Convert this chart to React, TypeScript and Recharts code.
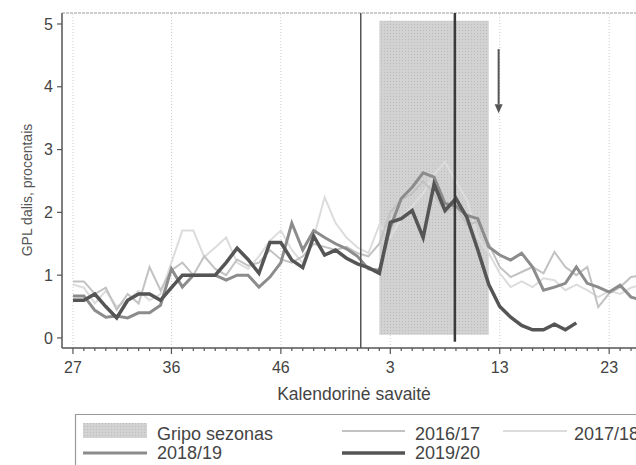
import React from 'react';
import {
  LineChart,
  Line,
  XAxis,
  YAxis,
  ReferenceArea,
  ReferenceLine,
  ReferenceDot,
} from 'recharts';

// Calendar weeks shown on the x axis (season runs from week 27 to week 26)
const weeks = [
  27, 28, 29, 30, 31, 32, 33, 34, 35, 36, 37, 38, 39, 40, 41, 42, 43, 44, 45, 46, 47, 48, 49, 50, 51, 52, 53,
  1, 2, 3, 4, 5, 6, 7, 8, 9, 10, 11, 12, 13, 14, 15, 16, 17, 18, 19, 20, 21, 22, 23, 24, 25, 26,
];
const majorTickWeeks = [27, 36, 46, 3, 13, 23];

const s1617 = [
  0.9, 0.9, 0.7, 0.8, 0.45, 0.7, 0.55, 1.13, 0.76, 1.08, 1.2, 1.0, 1.3, 1.1, 1.0, 1.25, 1.15, 1.2, 1.4, 1.25, 1.2,
  1.3, 1.5, 1.45, 1.4, 1.45, 1.35, 1.3, 1.5, 2.0, 2.2, 2.3, 2.5, 2.3, 2.0, 2.1, 1.8, 1.85, 1.5, 1.13, 0.97, 1.05,
  1.13, 1.03, 1.37, 1.13, 1.0, 1.13, 0.49, 0.71, 0.81, 0.97, 1.0,
];
const s1718 = [
  0.85, 0.8, 0.55, 0.75, 0.5, 0.6, 0.75, 0.6, 0.7, 1.2, 1.71, 1.71, 1.29, 1.44, 1.6, 1.2, 1.1, 1.3, 1.55, 1.71, 1.4,
  1.19, 1.6, 2.24, 1.83, 1.6, 1.44, 1.35, 1.8, 1.6, 1.9, 2.1, 2.3, 2.6, 2.8, 2.5, 2.2, 1.6, 1.35, 1.03, 0.81, 0.9,
  0.81, 0.95, 0.92, 0.76, 0.85, 0.76, 0.65, 0.75, 0.7, 0.8, 0.85,
];
const s1819 = [
  0.67, 0.67, 0.44, 0.33, 0.35, 0.32, 0.4, 0.4, 0.52, 1.1, 0.81, 1.0, 1.0, 1.0, 0.92, 1.0, 1.0, 0.81, 0.97, 1.2, 1.83,
  1.4, 1.71, 1.6, 1.5, 1.42, 1.3, 1.1, 1.08, 1.76, 2.22, 2.4, 2.63, 2.56, 2.14, 2.1, 1.95, 1.9, 1.45, 1.32, 1.24, 1.35,
  1.13, 0.76, 0.81, 0.87, 1.13, 0.87, 0.81, 0.73, 0.84, 0.65, 0.6,
];
const s1920 = [
  0.6, 0.6, 0.7, 0.5, 0.32, 0.6, 0.7, 0.7, 0.6, 0.8, 1.0, 1.0, 1.0, 1.0, 1.2, 1.43, 1.25, 1.03, 1.52, 1.52, 1.24,
  1.12, 1.62, 1.32, 1.4, 1.27, 1.18, 1.12, 1.03, 1.84, 1.9, 2.03, 1.6, 2.45, 2.03, 2.22, 1.92, 1.4, 0.85, 0.5, 0.33,
  0.2, 0.13, 0.13, 0.22, 0.13, 0.24,
];

// Flu season shading (week 2 to week 12) and marker lines (positions on the week index scale)
const seasonStartWeek = 2;
const seasonEndWeek = 12;
const markerLine1 = 26.3;
const markerLine2 = 34.9;
const arrowX = 38.9;

const idxOf = (w: number) => weeks.indexOf(w);

const data = weeks.map((w, i) => ({
  i,
  week: w,
  s1617: s1617[i] ?? null,
  s1718: s1718[i] ?? null,
  s1819: s1819[i] ?? null,
  s1920: s1920[i] ?? null,
}));

const allTicks = weeks.map((_, i) => i);
const majorIdx = majorTickWeeks.map(idxOf);

const FONT = '"Liberation Sans", Arial, sans-serif';

const XTick = (props: any) => {
  const { x, y, payload } = props;
  const isMajor = majorIdx.includes(payload.value);
  return (
    <g>
      <line x1={x} x2={x} y1={y} y2={y + (isMajor ? 6 : 3)} stroke="#555" strokeWidth={1.2} />
      {isMajor && (
        <text x={x} y={y + 25} textAnchor="middle" fontSize={16} fill="#444" fontFamily={FONT}>
          {weeks[payload.value]}
        </text>
      )}
    </g>
  );
};

const Arrow = (props: any) => {
  const { cx, cy } = props;
  return <path d={`M${cx - 4},${cy - 9} L${cx + 4},${cy - 9} L${cx},${cy} Z`} fill="#555" />;
};

export default function App() {
  return (
    <div
      style={{
        position: 'fixed',
        left: 0,
        top: 0,
        width: 636,
        height: 465,
        overflow: 'hidden',
        background: '#fff',
      }}
    >
      <LineChart
        width={660}
        height={465}
        data={data}
        margin={{ top: 13, right: 18, bottom: 0, left: 0 }}
      >
        <defs>
          <pattern id="stipple" width="3" height="3" patternUnits="userSpaceOnUse">
            <rect width="3" height="3" fill="#d2d2d2" />
            <rect width="1" height="1" fill="#bdbdbd" />
          </pattern>
        </defs>
        <XAxis
          dataKey="i"
          type="number"
          domain={[-1, 52]}
          ticks={allTicks}
          interval={0}
          allowDataOverflow
          height={117}
          tickLine={false}
          tickSize={0}
          tickMargin={0}
          tick={<XTick />}
          axisLine={{ stroke: '#555', strokeWidth: 1.5 }}
        />
        <YAxis
          type="number"
          domain={[-0.16, 5.175]}
          ticks={[0, 1, 2, 3, 4, 5]}
          allowDataOverflow
          width={62}
          tickSize={5}
          tickMargin={4}
          tick={{ fontSize: 16, fill: '#444', fontFamily: FONT }}
          tickLine={{ stroke: '#555', strokeWidth: 1.2 }}
          axisLine={{ stroke: '#555', strokeWidth: 1.5 }}
        />
        {majorIdx.map((m) => (
          <ReferenceLine key={m} x={m} stroke="#cfcfcf" strokeDasharray="1 2" strokeWidth={1} />
        ))}
        <ReferenceLine y={5.175} stroke="#999" strokeDasharray="3 1" strokeWidth={1.2} />
        <ReferenceArea
          x1={idxOf(seasonStartWeek)}
          x2={idxOf(seasonEndWeek)}
          y1={0.05}
          y2={5.05}
          fill="url(#stipple)"
          fillOpacity={1}
          stroke="none"
        />
        <Line dataKey="s1718" stroke="#dcdcdc" strokeWidth={2} dot={false} isAnimationActive={false} connectNulls={false} />
        <Line dataKey="s1617" stroke="#c2c2c2" strokeWidth={2} dot={false} isAnimationActive={false} connectNulls={false} />
        <Line dataKey="s1819" stroke="#8c8c8c" strokeWidth={3} dot={false} isAnimationActive={false} connectNulls={false} />
        <Line dataKey="s1920" stroke="#555" strokeWidth={3.5} dot={false} isAnimationActive={false} connectNulls={false} />
        <ReferenceLine x={markerLine1} stroke="#555" strokeWidth={1.5} />
        <ReferenceLine
          segment={[
            { x: markerLine2, y: 5.175 },
            { x: markerLine2, y: -0.06 },
          ]}
          stroke="#3a3a3a"
          strokeWidth={2.5}
        />
        <ReferenceLine
          segment={[
            { x: arrowX, y: 4.6 },
            { x: arrowX, y: 3.72 },
          ]}
          stroke="#555"
          strokeWidth={2}
        />
        <ReferenceDot x={arrowX} y={3.58} r={4} shape={<Arrow />} />
      </LineChart>
      <svg
        width={636}
        height={465}
        style={{ position: 'absolute', left: 0, top: 0, pointerEvents: 'none' }}
        fontFamily={FONT}
      >
        <text x={27} y={190} transform="rotate(-90 27 190)" textAnchor="middle" dominantBaseline="central" fontSize={14} fill="#555">
          GPL dalis, procentais
        </text>
        <text x={354} y={400} textAnchor="middle" fontSize={17.5} fill="#444">
          Kalendorinė savaitė
        </text>
        {/* Legend box */}
        <line x1={75} y1={414.5} x2={636} y2={414.5} stroke="#999" strokeWidth={1.2} />
        <line x1={75.5} y1={414} x2={75.5} y2={465} stroke="#999" strokeWidth={1.2} />
        <rect x={83} y={423} width={64} height={15} fill="url(#stipple2)" />
        <defs>
          <pattern id="stipple2" width="3" height="3" patternUnits="userSpaceOnUse">
            <rect width="3" height="3" fill="#d2d2d2" />
            <rect width="1" height="1" fill="#bdbdbd" />
          </pattern>
        </defs>
        <text x={157} y={440} fontSize={18} fill="#444">Gripo sezonas</text>
        <line x1={342} x2={405} y1={431} y2={431} stroke="#c2c2c2" strokeWidth={2} />
        <text x={415} y={440} fontSize={18} fill="#444">2016/17</text>
        <line x1={503} x2={567} y1={431} y2={431} stroke="#dcdcdc" strokeWidth={2} />
        <text x={574} y={440} fontSize={18} fill="#444">2017/18</text>
        <line x1={83} x2={147} y1={453} y2={453} stroke="#8c8c8c" strokeWidth={3} />
        <text x={157} y={459} fontSize={18} fill="#444">2018/19</text>
        <line x1={342} x2={405} y1={453} y2={453} stroke="#555" strokeWidth={3.5} />
        <text x={415} y={459} fontSize={18} fill="#444">2019/20</text>
      </svg>
    </div>
  );
}
